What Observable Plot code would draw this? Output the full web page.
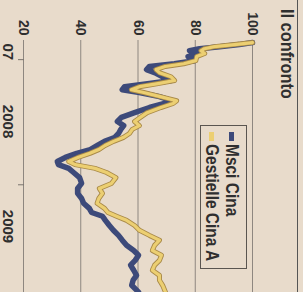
<!DOCTYPE html>
<html>
<head>
<meta charset="utf-8">
<script src="https://cdn.jsdelivr.net/npm/d3@7"></script>
<script src="https://cdn.jsdelivr.net/npm/@observablehq/plot@0.6"></script>
<style>
  html, body { margin: 0; padding: 0; width: 303px; height: 292px; overflow: hidden; background: #e8dbcb; }
  #wrap {
    position: absolute; left: 0; top: 0; width: 292px; height: 303px;
    transform-origin: 0 0; transform: translate(303px, 0) rotate(90deg);
    font-family: "Liberation Sans", Arial, sans-serif;
    font-weight: bold; color: #2f2f2f;
  }
  .cond { display: inline-block; transform: scaleX(0.86); transform-origin: 0 50%; white-space: nowrap; }
  #rule { position: absolute; left: 0; top: 5px; width: 292px; height: 0; border-top: 1px solid #555; }
  #title { position: absolute; left: 9px; top: 6px; font-size: 19px; line-height: 20px; }
  #chart { position: absolute; left: 0; top: 28px; }
  #legend { position: absolute; left: 125px; top: 56px; width: 144px; height: 47px; box-sizing: border-box;
            border: 1px solid #5a5550; font-size: 18px; }
  .row { position: absolute; left: 6px; height: 20px; line-height: 20px; white-space: nowrap; }
  .sw { display: inline-block; width: 9px; height: 5px; vertical-align: middle; margin-right: 3px; position: relative; top: -1px; }
</style>
</head>
<body>
<div id="wrap">
  <div id="rule"></div>
  <div id="title"><span class="cond">Il confronto</span></div>
  <div id="chart"></div>
  <div id="legend"></div>
</div>
<script>
// Dates shared by both series
const dates = [
  "2007-11-12","2007-11-18","2007-11-24","2007-11-30","2007-12-06","2007-12-14","2007-12-23",
  "2008-01-04","2008-01-13","2008-01-21","2008-01-30","2008-02-08","2008-02-20","2008-03-02",
  "2008-03-11","2008-03-20","2008-03-29","2008-04-06","2008-04-18","2008-04-30","2008-05-08",
  "2008-05-20","2008-06-04","2008-06-18","2008-06-30","2008-07-12","2008-07-23","2008-08-04",
  "2008-08-16","2008-08-27","2008-09-08","2008-09-20","2008-10-01","2008-10-13","2008-10-25",
  "2008-11-03","2008-11-14","2008-11-26","2008-12-11","2008-12-28","2009-01-12","2009-01-26",
  "2009-02-10","2009-02-24","2009-03-11","2009-03-23","2009-04-03","2009-04-15","2009-04-30",
  "2009-05-14","2009-05-29","2009-06-12","2009-06-27","2009-07-12","2009-07-26","2009-08-10",
  "2009-08-24","2009-09-08","2009-09-23","2009-10-07","2009-10-22","2009-11-11"
];
const msciCina = [
  100, 95.4, 88.5, 81.5, 78, 80.8, 77.5,
  79.7, 72.7, 64, 63, 65.8, 68.6, 71.7,
  64, 55.3, 54.5, 60.5, 67.5, 71.7, 69.2,
  64, 58.8, 54.2, 52.8, 55, 54, 53.2,
  51.8, 48.3, 45.8, 43.3, 38.6, 34.6, 31.8,
  32.2, 35.8, 37.5, 39.6, 40.3, 38.9, 38.9,
  40.3, 41, 43, 43.8, 47.6, 48.6, 50,
  51.4, 53.2, 54.5, 56, 58.5, 60.2, 59,
  57.4, 58.5, 59.5, 58.3, 57.8, 60.2
];
const gestielleCinaA = [
  100, 93.7, 86.7, 83.2, 82, 83.3, 80.5,
  80.2, 76, 69.5, 66.3, 67.5, 71.5, 72.8,
  67, 60.5, 57.7, 62, 67.8, 73.5, 72.3,
  68, 63.2, 60.8, 58.8, 60.5, 58, 57,
  54.8, 51.5, 48.5, 46.3, 43.2, 39, 35.8,
  38, 45, 49, 52.3, 50.7, 46.5, 47.6,
  46.3, 45.7, 48.3, 49.5, 52.5, 56, 58.8,
  60.5, 64, 67.5, 65.8, 65, 68.2, 67.5,
  65.8, 65, 67.5, 67.5, 68.6, 69.6
];
const seriesNames = ["Msci Cina", "Gestielle Cina A"];
const seriesColors = ["#3d4a7a", "#eccf72"];
const yTicks = [20, 40, 60, 80, 100];
const yearTicks = ["2008-01-01", "2009-01-01"];
const xLabelDates = ["2007-12-09", "2008-06-30", "2009-05-03"];
const xLabels = ["07", "2008", "2009"];

const parse = s => new Date(s + "T00:00:00Z");
const rows = dates.map((d, i) => ({date: parse(d), msci: msciCina[i], gest: gestielleCinaA[i]}));
const labelMap = new Map(xLabelDates.map((d, i) => [+parse(d), xLabels[i]]));

const chart = Plot.plot({
  width: 292, height: 275,
  marginLeft: 40, marginRight: 0, marginTop: 22, marginBottom: 24,
  style: {background: "transparent", fontFamily: "'Liberation Sans',Arial,sans-serif",
          fontWeight: "bold", fontSize: "14px", color: "#2f2f2f", overflow: "visible"},
  x: {type: "utc", domain: [parse("2007-11-06"), parse("2009-11-12")]},
  y: {domain: [20, 100]},
  marks: [
    Plot.gridY(yTicks, {stroke: "#8e8780", strokeOpacity: 1, strokeWidth: 1}),
    Plot.axisY(yTicks, {tickSize: 0, tickPadding: 5, label: null, fontSize: 14}),
    Plot.axisX(yearTicks.map(parse), {tickSize: 6, tickFormat: () => "", label: null, stroke: "#7a746e"}),
    Plot.axisX(xLabelDates.map(parse), {tickSize: 0, tickPadding: 10, tickFormat: d => labelMap.get(+d), label: null, fontSize: 15}),
    Plot.line(rows, {x: "date", y: "msci", stroke: seriesColors[0], strokeWidth: 5.5}),
    Plot.line(rows, {x: "date", y: "gest", stroke: "#a98a48", strokeWidth: 5}),
    Plot.line(rows, {x: "date", y: "gest", stroke: seriesColors[1], strokeWidth: 3.2})
  ]
});
document.getElementById("chart").appendChild(chart);

const legend = document.getElementById("legend");
seriesNames.forEach((name, i) => {
  const row = document.createElement("div");
  row.className = "row";
  row.style.top = (4 + i * 20) + "px";
  const sw = document.createElement("span");
  sw.className = "sw";
  sw.style.background = seriesColors[i];
  row.appendChild(sw);
  const t = document.createElement("span");
  t.className = "cond";
  t.textContent = name;
  row.appendChild(t);
  legend.appendChild(row);
});
</script>
</body>
</html>
